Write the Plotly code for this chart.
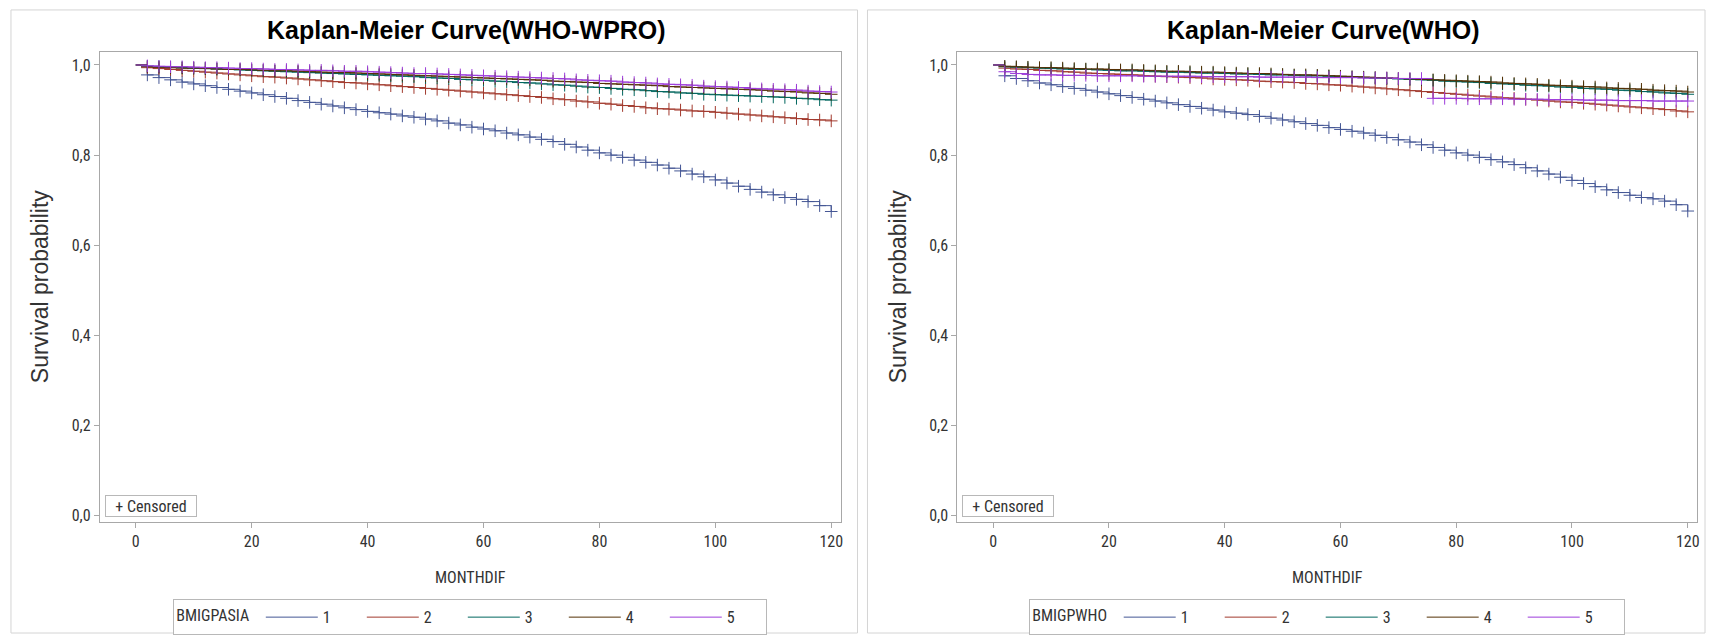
import plotly.graph_objects as go

MONTHS = list(range(0, 121, 2))

WPRO_1 = [1.000,0.978,0.972,0.967,0.962,0.958,0.954,0.950,0.946,0.942,0.938,0.934,0.930,0.926,0.921,0.917,0.913,0.909,0.905,0.901,0.897,0.894,0.891,0.887,0.884,0.880,0.876,0.871,0.867,0.862,0.858,0.854,0.849,0.845,0.840,0.835,0.830,0.824,0.818,0.811,0.805,0.800,0.795,0.789,0.784,0.778,0.771,0.765,0.758,0.752,0.745,0.738,0.731,0.724,0.718,0.712,0.706,0.702,0.697,0.688,0.675]
WPRO_2 = [1.000,0.994,0.992,0.990,0.988,0.986,0.984,0.982,0.980,0.978,0.976,0.974,0.973,0.971,0.969,0.967,0.965,0.963,0.961,0.960,0.958,0.956,0.954,0.952,0.950,0.948,0.946,0.944,0.942,0.940,0.938,0.936,0.934,0.932,0.930,0.928,0.925,0.923,0.920,0.918,0.915,0.913,0.910,0.908,0.905,0.903,0.902,0.900,0.898,0.897,0.895,0.893,0.891,0.889,0.887,0.885,0.883,0.881,0.879,0.878,0.876]
WPRO_3 = [1.000,0.997,0.996,0.995,0.994,0.993,0.992,0.991,0.990,0.989,0.988,0.987,0.986,0.985,0.984,0.983,0.982,0.981,0.980,0.979,0.978,0.977,0.976,0.975,0.974,0.972,0.971,0.970,0.968,0.967,0.966,0.964,0.963,0.961,0.960,0.958,0.956,0.955,0.953,0.951,0.950,0.948,0.946,0.945,0.943,0.941,0.940,0.938,0.937,0.935,0.934,0.933,0.932,0.931,0.930,0.929,0.928,0.926,0.925,0.923,0.922]
WPRO_4 = [1.000,0.996,0.995,0.994,0.993,0.993,0.992,0.991,0.990,0.990,0.989,0.988,0.987,0.987,0.986,0.985,0.984,0.983,0.983,0.982,0.981,0.980,0.979,0.978,0.977,0.976,0.975,0.974,0.973,0.972,0.971,0.970,0.969,0.968,0.967,0.966,0.964,0.963,0.962,0.961,0.959,0.958,0.957,0.956,0.955,0.954,0.952,0.951,0.950,0.949,0.948,0.947,0.946,0.945,0.944,0.942,0.941,0.940,0.938,0.937,0.935]
WPRO_5 = [1.000,0.998,0.997,0.996,0.996,0.995,0.994,0.994,0.993,0.992,0.992,0.991,0.990,0.990,0.989,0.988,0.988,0.987,0.986,0.986,0.985,0.984,0.983,0.982,0.981,0.981,0.980,0.979,0.978,0.977,0.976,0.975,0.974,0.973,0.972,0.971,0.970,0.969,0.967,0.966,0.965,0.964,0.962,0.961,0.960,0.958,0.957,0.956,0.955,0.953,0.952,0.951,0.950,0.948,0.947,0.946,0.945,0.944,0.942,0.941,0.940]

WHO_1 = [1.000,0.976,0.970,0.965,0.960,0.956,0.952,0.948,0.944,0.940,0.936,0.932,0.928,0.924,0.920,0.916,0.912,0.908,0.904,0.900,0.896,0.893,0.890,0.886,0.882,0.878,0.874,0.870,0.866,0.861,0.857,0.853,0.849,0.844,0.839,0.834,0.829,0.823,0.817,0.811,0.805,0.800,0.795,0.790,0.785,0.779,0.772,0.765,0.758,0.751,0.744,0.737,0.730,0.723,0.717,0.711,0.706,0.703,0.698,0.690,0.676]
WHO_2 = [1.000,0.993,0.991,0.990,0.988,0.987,0.985,0.984,0.982,0.981,0.980,0.979,0.978,0.976,0.975,0.974,0.973,0.972,0.971,0.969,0.968,0.967,0.966,0.964,0.963,0.962,0.961,0.959,0.958,0.956,0.955,0.953,0.951,0.949,0.947,0.945,0.943,0.941,0.939,0.937,0.935,0.933,0.931,0.929,0.927,0.926,0.924,0.922,0.920,0.918,0.917,0.915,0.913,0.911,0.909,0.907,0.905,0.903,0.901,0.898,0.896]
WHO_3 = [1.000,0.996,0.995,0.994,0.993,0.992,0.991,0.990,0.990,0.989,0.988,0.987,0.987,0.986,0.985,0.984,0.984,0.983,0.982,0.982,0.981,0.980,0.980,0.979,0.978,0.978,0.977,0.976,0.976,0.975,0.974,0.973,0.972,0.971,0.970,0.969,0.968,0.967,0.966,0.964,0.963,0.962,0.961,0.959,0.958,0.957,0.955,0.954,0.953,0.951,0.950,0.948,0.947,0.946,0.944,0.943,0.941,0.940,0.938,0.937,0.935]
WHO_4 = [1.000,0.997,0.996,0.995,0.994,0.994,0.993,0.992,0.991,0.991,0.990,0.989,0.989,0.988,0.987,0.986,0.986,0.985,0.984,0.984,0.983,0.982,0.981,0.981,0.980,0.979,0.978,0.978,0.977,0.976,0.975,0.974,0.973,0.972,0.971,0.970,0.969,0.968,0.967,0.966,0.965,0.964,0.963,0.962,0.960,0.959,0.958,0.957,0.955,0.954,0.953,0.952,0.951,0.949,0.948,0.947,0.946,0.944,0.943,0.942,0.940]
WHO_5 = [1.000,0.985,0.981,0.979,0.978,0.978,0.977,0.977,0.977,0.976,0.976,0.976,0.976,0.975,0.975,0.975,0.975,0.975,0.974,0.974,0.974,0.974,0.974,0.973,0.973,0.973,0.973,0.973,0.972,0.972,0.972,0.972,0.971,0.971,0.971,0.970,0.970,0.970,0.926,0.926,0.926,0.925,0.925,0.925,0.925,0.924,0.924,0.924,0.923,0.923,0.923,0.922,0.922,0.922,0.921,0.921,0.921,0.920,0.920,0.920,0.920]

GROUPS = ["1", "2", "3", "4", "5"]
COLORS = ["#445694", "#A23A2E", "#01665E", "#543005", "#9D3CDB"]
Y_TICKS = [0.0, 0.2, 0.4, 0.6, 0.8, 1.0]
Y_TICK_TEXT = ["0,0", "0,2", "0,4", "0,6", "0,8", "1,0"]
X_TICKS = [0, 20, 40, 60, 80, 100, 120]

NARROW = "Liberation Sans Narrow, Arial Narrow, Roboto Condensed, DejaVu Sans Condensed, sans-serif"
SANS = "Liberation Sans, Arial, sans-serif"
W, H = 1709, 640

panels = [
    dict(xa="x", ya="y", legend="legend", title="Kaplan-Meier Curve(WHO-WPRO)",
         series=[WPRO_1, WPRO_2, WPRO_3, WPRO_4, WPRO_5], var="BMIGPASIA"),
    dict(xa="x2", ya="y2", legend="legend2", title="Kaplan-Meier Curve(WHO)",
         series=[WHO_1, WHO_2, WHO_3, WHO_4, WHO_5], var="BMIGPWHO"),
]

fig = go.Figure()
for p in panels:
    for g, col, vals in zip(GROUPS, COLORS, p["series"]):
        fig.add_trace(go.Scatter(
            x=MONTHS, y=vals, mode="lines", name=g, line=dict(color=col, width=1, shape="hv"),
            xaxis=p["xa"], yaxis=p["ya"], legend=p["legend"], hoverinfo="skip"))
    for g, col, vals in zip(GROUPS, COLORS, p["series"]):
        fig.add_trace(go.Scatter(
            x=MONTHS[1:], y=vals[1:], mode="markers", showlegend=False,
            marker=dict(symbol="cross-thin", size=9, line=dict(color=col, width=1), color=col),
            xaxis=p["xa"], yaxis=p["ya"], hoverinfo="skip"))

XDOM = [[100 / W, 842 / W], [959 / W, 1700 / W]]
YDOM = [1 - 525 / H, 1 - 52 / H]

axis_common = dict(showline=True, mirror=True, linecolor="#a8a8a8", linewidth=1,
                   ticks="outside", ticklen=5, tickcolor="#a8a8a8", showgrid=False, zeroline=False,
                   tickfont=dict(family=NARROW, size=16, color="#333333"))

for i, p in enumerate(panels):
    sfx = "" if i == 0 else str(i + 1)
    fig.layout["xaxis" + sfx] = dict(
        domain=XDOM[i], anchor="y" + sfx, range=[-6.2, 121.6], tickvals=X_TICKS,
        title=dict(text="MONTHDIF", font=dict(family=NARROW, size=16, color="#333333"), standoff=21),
        **axis_common)
    fig.layout["yaxis" + sfx] = dict(
        domain=YDOM, anchor="x" + sfx, range=[-0.0132, 1.0295], tickvals=Y_TICKS, ticktext=Y_TICK_TEXT,
        title=dict(text="Survival probability", font=dict(family=SANS, size=23, color="#333333"), standoff=16),
        **axis_common)
    cx = (XDOM[i][0] + XDOM[i][1]) / 2
    fig.add_annotation(x=cx - 4 / W, y=1 - 30 / H, xref="paper", yref="paper", showarrow=False,
                       text="<b>" + p["title"] + "</b>", font=dict(family=SANS, size=25, color="#000000"),
                       xanchor="center", yanchor="middle")
    fig.add_annotation(x=XDOM[i][0] + 5 / W, y=1 - 498 / H, xref="paper", yref="paper",
                       showarrow=False, text="+ Censored", xanchor="left", yanchor="top",
                       width=88, height=18, align="center",
                       font=dict(family=NARROW, size=16, color="#333333"),
                       bordercolor="#b8b8b8", borderwidth=1, borderpad=1, bgcolor="white")
    fig.layout[p["legend"]] = dict(
        orientation="h", x=cx, xanchor="center", y=1 - 603 / H, yanchor="top",
        title=dict(text=p["var"] + " ", side="left", font=dict(family=NARROW, size=16, color="#333333")),
        font=dict(family=NARROW, size=16, color="#333333"),
        bordercolor="#b8b8b8", borderwidth=1, bgcolor="white", itemwidth=52,
        entrywidth=34, tracegroupgap=0)

# panel frames
fig.add_shape(type="rect", xref="paper", yref="paper", x0=11 / W, x1=859 / W,
              y0=1 - 637 / H, y1=1 - 10 / H, line=dict(color="#d4d4d4", width=1), layer="below")
fig.add_shape(type="rect", xref="paper", yref="paper", x0=869 / W, x1=1708 / W,
              y0=1 - 637 / H, y1=1 - 10 / H, line=dict(color="#d4d4d4", width=1), layer="below")

fig.update_layout(width=W, height=H, margin=dict(l=0, r=0, t=0, b=0),
                  paper_bgcolor="white", plot_bgcolor="white")

fig.write_html("out.html", config={"displayModeBar": False},
               post_script="document.body.style.margin='0';document.body.style.overflow='hidden';")
